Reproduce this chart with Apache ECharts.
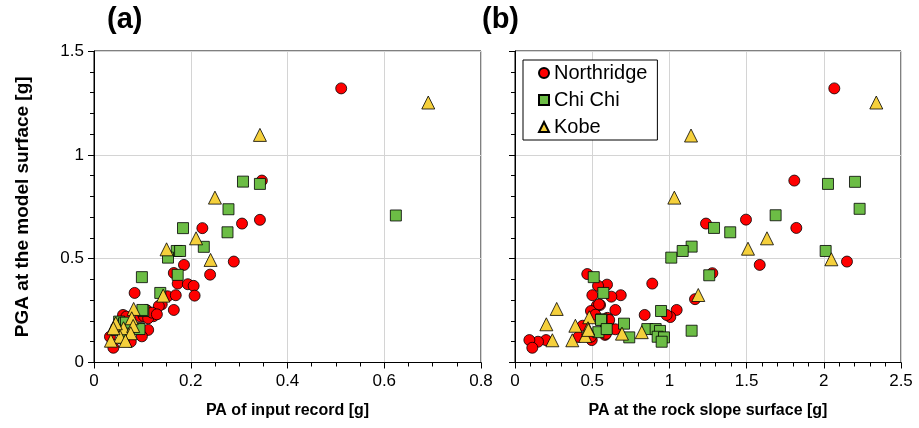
<!DOCTYPE html>
<html>
<head>
<meta charset="utf-8">
<script src="https://cdn.jsdelivr.net/npm/echarts@6/dist/echarts.min.js"></script>
<style>
  html, body { margin: 0; padding: 0; background: #fff; }
  #container { width: 919px; height: 428px; }
</style>
</head>
<body>
<div id="container"></div>
<script>
// (a) PGA at model surface vs PA of input record  [x, y]
var northA = [[0.511, 1.32], [0.347, 0.876], [0.343, 0.687], [0.306, 0.669], [0.224, 0.647], [0.289, 0.486],
    [0.186, 0.470], [0.165, 0.431], [0.240, 0.423], [0.173, 0.380], [0.194, 0.377], [0.206, 0.369],
    [0.084, 0.335], [0.152, 0.319], [0.169, 0.324], [0.208, 0.322], [0.140, 0.280], [0.134, 0.272],
    [0.165, 0.253], [0.109, 0.252], [0.123, 0.223], [0.060, 0.229], [0.067, 0.221], [0.096, 0.221],
    [0.103, 0.224], [0.112, 0.213], [0.112, 0.157], [0.099, 0.126], [0.033, 0.124], [0.040, 0.071],
    [0.076, 0.100], [0.120, 0.240], [0.130, 0.232]];
var chichiA = [[0.624, 0.708], [0.308, 0.871], [0.343, 0.860], [0.278, 0.738], [0.184, 0.647], [0.276, 0.627],
    [0.227, 0.557], [0.171, 0.537], [0.178, 0.537], [0.153, 0.505], [0.173, 0.422], [0.099, 0.411],
    [0.137, 0.335], [0.102, 0.248], [0.100, 0.253], [0.052, 0.197], [0.062, 0.189], [0.092, 0.165],
    [0.047, 0.157], [0.071, 0.149], [0.061, 0.117], [0.066, 0.192], [0.094, 0.161]];
var kobeA = [[0.691, 1.252], [0.343, 1.096], [0.250, 0.794], [0.211, 0.598], [0.150, 0.545], [0.241, 0.494],
    [0.143, 0.322], [0.082, 0.258], [0.078, 0.213], [0.043, 0.181], [0.061, 0.165], [0.081, 0.176],
    [0.076, 0.141], [0.054, 0.124], [0.035, 0.105], [0.065, 0.104], [0.045, 0.189], [0.040, 0.165]];

// (b) PGA at model surface vs PA at the rock slope surface
var northB = [[2.068, 1.32], [1.809, 0.876], [1.237, 0.669], [1.496, 0.688], [1.822, 0.648], [2.150, 0.486],
    [1.585, 0.470], [1.278, 0.430], [0.889, 0.380], [1.166, 0.305], [1.047, 0.253], [1.006, 0.219],
    [0.982, 0.229], [0.840, 0.229], [0.685, 0.324], [0.624, 0.317], [0.596, 0.375], [0.538, 0.369],
    [0.501, 0.324], [0.468, 0.426], [0.650, 0.253], [0.551, 0.277], [0.529, 0.272], [0.492, 0.248],
    [0.604, 0.192], [0.650, 0.160], [0.583, 0.133], [0.497, 0.108], [0.411, 0.123], [0.438, 0.177],
    [0.201, 0.108], [0.149, 0.100], [0.093, 0.108], [0.112, 0.071], [0.544, 0.280], [0.589, 0.138],
    [0.492, 0.124], [0.598, 0.215], [0.610, 0.205], [0.520, 0.230]];
var chichiB = [[2.027, 0.860], [2.202, 0.870], [2.232, 0.740], [1.688, 0.709], [1.289, 0.648], [1.394, 0.627],
    [2.012, 0.537], [1.258, 0.420], [1.144, 0.558], [1.086, 0.537], [1.012, 0.505], [0.946, 0.248],
    [1.144, 0.153], [0.857, 0.161], [0.911, 0.161], [0.939, 0.152], [0.924, 0.124], [0.965, 0.121],
    [0.950, 0.100], [0.740, 0.121], [0.706, 0.187], [0.572, 0.335], [0.510, 0.411], [0.561, 0.208],
    [0.589, 0.161], [0.540, 0.146], [0.557, 0.205], [0.594, 0.161]];
var kobeB = [[2.340, 1.252], [1.140, 1.093], [1.032, 0.794], [1.632, 0.598], [1.509, 0.548], [2.049, 0.497],
    [1.187, 0.325], [0.821, 0.146], [0.693, 0.139], [0.481, 0.218], [0.473, 0.165], [0.455, 0.128],
    [0.391, 0.177], [0.371, 0.107], [0.270, 0.258], [0.203, 0.184], [0.242, 0.107], [0.475, 0.157]];

var xNameA = 'PA of input record [g]';
var xNameB = 'PA at the rock slope surface [g]';
var yName = 'PGA at the model surface [g]';

var font = 'Liberation Sans, Arial, sans-serif';

var dom = document.getElementById('container');
var myChart = echarts.init(dom);

function xAxisOf(idx, max, interval, minor, name) {
    return {
        gridIndex: idx,
        type: 'value',
        min: 0, max: max, interval: interval,
        name: name,
        nameLocation: 'middle',
        nameGap: 40,
        nameTextStyle: { color: '#000', fontSize: 16, fontWeight: 'bold', fontFamily: font },
        axisLine: { lineStyle: { color: '#000', width: 1 } },
        axisTick: { length: 6, lineStyle: { color: '#000' } },
        minorTick: { show: true, splitNumber: minor, length: 4, lineStyle: { color: '#000' } },
        axisLabel: { color: '#000', fontSize: 17, fontFamily: font, margin: 10 },
        splitLine: { lineStyle: { color: '#d4d4d4', width: 1 } }
    };
}

function yAxisOf(idx, showLabel, name) {
    return {
        gridIndex: idx,
        type: 'value',
        min: 0, max: 1.5, interval: 0.5,
        name: name,
        nameLocation: 'middle',
        nameGap: 62,
        nameTextStyle: { color: '#000', fontSize: 19, fontWeight: 'bold', fontFamily: font },
        axisLine: { show: true, lineStyle: { color: '#000', width: 1 } },
        axisTick: { show: true, length: 6, lineStyle: { color: '#000' } },
        minorTick: { show: true, splitNumber: 5, length: 4, lineStyle: { color: '#000' } },
        axisLabel: { show: showLabel, color: '#000', fontSize: 17, fontFamily: font, margin: 10 },
        splitLine: { lineStyle: { color: '#d4d4d4', width: 1 } }
    };
}

var styleNorth = { color: '#ff0000', borderColor: '#000', borderWidth: 0.8, opacity: 1 };
var styleChi = { color: '#6cbd45', borderColor: '#000', borderWidth: 0.8, opacity: 1 };
var styleKobe = { color: '#f5d03c', borderColor: '#000', borderWidth: 0.8, opacity: 1 };

function scatter(name, idx, data, symbol, size, style) {
    return {
        name: name,
        type: 'scatter',
        xAxisIndex: idx,
        yAxisIndex: idx,
        symbol: symbol,
        symbolSize: size,
        itemStyle: style,
        data: data,
        animation: false
    };
}

var option = {
    animation: false,
    textStyle: { fontFamily: font },
    title: [
        { text: '(a)', left: 102, top: 0, textStyle: { fontSize: 29, fontWeight: 'bold', color: '#000', fontFamily: font } },
        { text: '(b)', left: 477, top: 0, textStyle: { fontSize: 29, fontWeight: 'bold', color: '#000', fontFamily: font } }
    ],
    legend: {
        orient: 'vertical',
        left: 523,
        top: 60,
        padding: [3, 10, 3, 15],
        itemGap: 7,
        itemWidth: 10,
        itemHeight: 10,
        borderColor: '#000',
        borderWidth: 1,
        backgroundColor: '#fff',
        textStyle: { color: '#000', fontSize: 20, fontFamily: font },
        data: ['Northridge', 'Chi Chi', 'Kobe']
    },
    grid: [
        { left: 94, width: 387, top: 51, height: 311.5, show: true, borderColor: '#000', borderWidth: 1 },
        { left: 515, width: 386, top: 51, height: 311.5, show: true, borderColor: '#000', borderWidth: 1 }
    ],
    xAxis: [
        xAxisOf(0, 0.8, 0.2, 4, xNameA),
        xAxisOf(1, 2.5, 0.5, 5, xNameB)
    ],
    yAxis: [
        yAxisOf(0, true, yName),
        yAxisOf(1, false, '')
    ],
    series: [
        scatter('Northridge', 0, northA, 'circle', 11, styleNorth),
        scatter('Chi Chi', 0, chichiA, 'rect', 11, styleChi),
        scatter('Kobe', 0, kobeA, 'triangle', 13, styleKobe),
        scatter('Northridge', 1, northB, 'circle', 11, styleNorth),
        scatter('Chi Chi', 1, chichiB, 'rect', 11, styleChi),
        scatter('Kobe', 1, kobeB, 'triangle', 13, styleKobe)
    ]
};

if (option && typeof option === 'object') {
    myChart.setOption(option, true);
}
</script>
</body>
</html>
